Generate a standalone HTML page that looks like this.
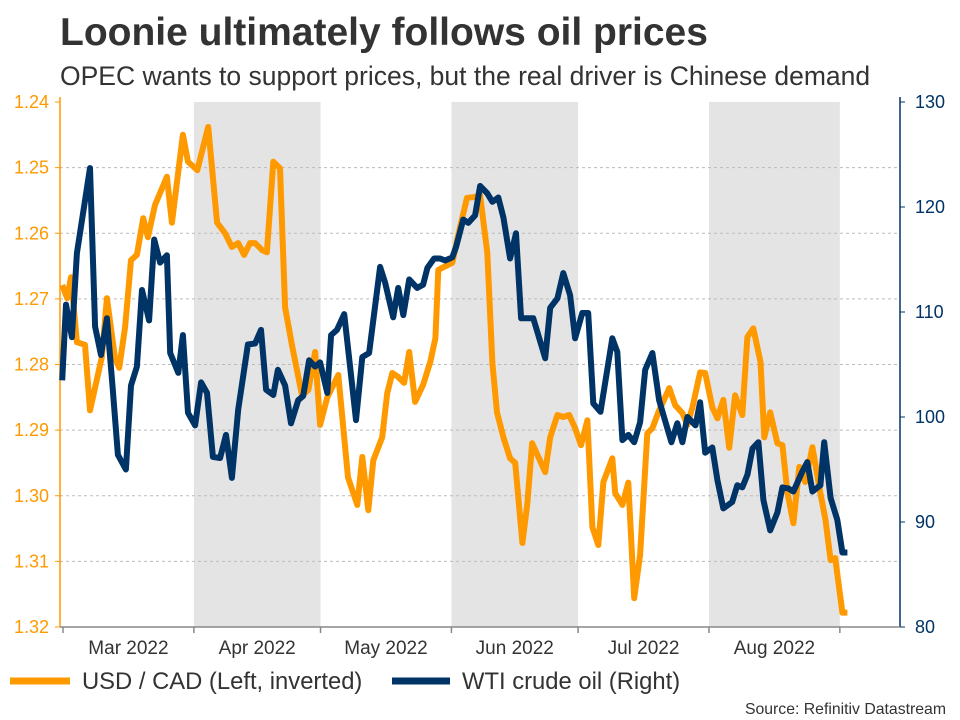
<!DOCTYPE html>
<html><head><meta charset="utf-8">
<style>
body{margin:0;background:#fff;font-family:"Liberation Sans",sans-serif;}
svg{display:block}
</style></head>
<body>
<svg id="chart" width="960" height="720" xmlns="http://www.w3.org/2000/svg" font-family="Liberation Sans, sans-serif">
<text x="60" y="45" font-size="39" font-weight="bold" fill="#333">Loonie ultimately follows oil prices</text>
<text x="60" y="85" font-size="26.5" fill="#333">OPEC wants to support prices, but the real driver is Chinese demand</text>
<g id="bands"></g><g id="grid"></g><g id="axes"></g><g id="series"></g>
<g>
<line x1="10" y1="681" x2="70" y2="681" stroke="#FF9900" stroke-width="7"/>
<text x="82" y="689" font-size="23.8" fill="#333">USD / CAD (Left, inverted)</text>
<line x1="392" y1="681" x2="450" y2="681" stroke="#003366" stroke-width="7"/>
<text x="462" y="689" font-size="23.8" fill="#333">WTI crude oil (Right)</text>
</g>
<text x="946" y="714" font-size="15.8" fill="#333" text-anchor="end">Source: Refinitiv Datastream</text>
</svg>
<script>
const leftTicks=[1.24,1.25,1.26,1.27,1.28,1.29,1.30,1.31,1.32];
const leftTickLabels=["1.24","1.25","1.26","1.27","1.28","1.29","1.30","1.31","1.32"];
const rightTicks=[80,90,100,110,120,130];
const monthLabels=["Mar 2022","Apr 2022","May 2022","Jun 2022","Jul 2022","Aug 2022"];
const monthStartDays=[0,31,61,92,122,153,184];
const shadedMonths=[1,3,5];
const cadDays=[-0.2,1,1.9,3.3,5.2,6.4,9.2,10.4,12.3,13.3,14.7,16.1,17.5,19,20.1,21.8,24.6,25.8,28.4,29.6,31.8,34.4,36.5,38.4,40,41.5,42.9,44.3,45.5,47.2,48.3,49.8,51.4,52.6,54.3,56.6,58.1,59.7,60.9,62.6,65.2,67.5,69.7,70.9,72.3,73.5,75.6,76.8,78,79.4,80.8,82,83.4,85.3,87,88.2,88.9,90,92.2,93.6,95.7,97.2,98.8,100.5,101.7,102.8,104.3,105.9,107.1,108.8,110,111.1,112.6,114.2,115.4,117.1,118.5,119.9,121.3,122.7,124.2,125.4,126.8,128,130.1,130.8,132.5,133.9,135.3,136.7,138.4,139.6,141,143.6,145,146.7,147.9,149.1,150.9,152.1,153.8,155,156.4,157.8,159.2,160.9,162.1,163.5,165.2,166.1,167.5,169.2,170.4,171.6,173,174.4,175.8,177.5,179.4,180.6,181.8,182.9,184.6,185.8];
const cadValues=[1.2679,1.2699,1.2667,1.2766,1.2770,1.2870,1.2789,1.2699,1.2789,1.2805,1.2743,1.2641,1.2633,1.2577,1.2606,1.2557,1.2514,1.2584,1.2450,1.2491,1.2504,1.2438,1.2584,1.2600,1.2621,1.2615,1.2633,1.2615,1.2615,1.2626,1.2629,1.2491,1.2501,1.2713,1.2773,1.2847,1.2839,1.2781,1.2892,1.2850,1.2816,1.2972,1.3014,1.2941,1.3022,1.2946,1.2911,1.2844,1.2813,1.2819,1.2828,1.2781,1.2857,1.2831,1.2796,1.2760,1.2656,1.2652,1.2645,1.2603,1.2546,1.2545,1.2542,1.2630,1.2798,1.2873,1.2911,1.2943,1.2950,1.3072,1.3011,1.2920,1.2941,1.2964,1.2911,1.2877,1.2880,1.2877,1.2897,1.2923,1.2885,1.3048,1.3075,1.2979,1.2943,1.2996,1.3014,1.2980,1.3156,1.3090,1.2905,1.2897,1.2873,1.2836,1.2862,1.2874,1.2892,1.2865,1.2812,1.2813,1.2865,1.2882,1.2854,1.2927,1.2847,1.2877,1.2758,1.2745,1.2796,1.2911,1.2873,1.2920,1.2923,1.2996,1.3042,1.2956,1.2979,1.2926,1.2996,1.3037,1.3098,1.3095,1.3178,1.3178];
const wtiDays=[-0.2,0.7,2.1,3.3,6.4,7.6,9,10.4,11.8,13,14.9,16.1,17.5,18.7,20.4,21.6,23,24.6,25.4,27.3,28.4,29.6,31.3,32.7,34.1,35.5,37.2,38.6,40,41.5,43.8,45.5,46.9,48.1,49.8,50.9,52.6,54,55.7,56.9,58.3,59.7,60.9,62.6,63.5,64.9,66.6,68.5,69.4,70.9,72.5,75.1,76.3,78.2,79.4,80.6,82,83.9,85.3,86.3,87.9,89.3,90.5,92.2,93.1,94.8,96,97.6,98.8,100.5,101.7,103.1,104.3,105.9,107.3,108.5,111.4,114.2,115.4,117.1,118.5,120.1,121.3,123,124.4,125.6,127.3,130.1,131.3,132.5,133.9,135.3,136.7,137.9,139.6,141.2,144.1,145.5,146.7,147.9,149.8,150.9,152.1,153.8,155,156.4,158.5,159.7,160.9,162.1,163.3,164.7,165.9,167.5,169.2,170.4,171.8,173,175.1,176.3,177.5,179.4,180.3,181.8,183.4,184.6,185.8];
const wtiValues=[103.5,110.7,107.6,115.6,123.7,108.6,105.9,109.4,102.6,96.4,95.0,103.0,104.8,112.1,109.2,116.9,114.7,115.4,106.1,104.2,107.8,100.4,99.2,103.3,102.3,96.2,96.1,98.3,94.2,100.7,106.9,107.0,108.3,102.6,102.1,104.5,103.0,99.4,101.6,102.0,105.4,104.8,105.2,102.3,107.8,108.3,109.8,103.0,99.7,105.7,106.1,114.3,112.8,109.5,112.3,109.7,113.1,112.3,112.6,114.2,115.1,115.1,114.9,115.2,116.2,118.8,118.5,119.2,122.0,121.3,120.5,120.9,119.0,115.1,117.5,109.4,109.4,105.6,110.4,111.3,113.7,111.6,107.5,109.9,109.9,101.3,100.5,107.5,106.2,97.8,98.3,97.6,99.5,104.5,106.1,101.6,97.6,99.4,97.6,100.0,99.2,101.4,96.6,97.1,94.0,91.3,91.9,93.5,93.3,94.5,97.0,97.6,92.1,89.2,90.9,93.3,93.2,92.9,94.8,95.7,92.9,93.5,97.6,92.3,90.2,87.1,87.1];

const NS="http://www.w3.org/2000/svg";
const X0=63, PX_PER_DAY=4.222, PL=60, PR=900, PT=102, PB=627;
function xScale(d){return X0+d*PX_PER_DAY;}
function yLeft(v){return PT+(v-1.24)/(1.32-1.24)*(PB-PT);}
function yRight(v){return PT+(130-v)/(130-80)*(PB-PT);}
function mk(tag,attrs,parent){const e=document.createElementNS(NS,tag);for(const k in attrs)e.setAttribute(k,attrs[k]);parent.appendChild(e);return e;}
const bands=document.getElementById('bands'),grid=document.getElementById('grid'),axes=document.getElementById('axes'),series=document.getElementById('series');
shadedMonths.forEach(i=>{
  const x1=xScale(monthStartDays[i]),x2=xScale(monthStartDays[i+1]);
  const r=mk('rect',{x:x1,y:PT,width:x2-x1,height:PB-PT,fill:'#e4e4e4'},bands);
  
  
});
leftTicks.forEach((v,i)=>{
  const y=yLeft(v);
  if(i>0&&i<leftTicks.length-1){const g=mk('line',{x1:PL,x2:PR,y1:y,y2:y,stroke:'#bbb','stroke-dasharray':'3,3','stroke-width':1},grid);
  
  }
  mk('line',{x1:PL-5,x2:PL,y1:y,y2:y,stroke:'#FF9900'},axes);
  const t=mk('text',{x:PL-11,y:y+6,'font-size':18,fill:'#FF9900','text-anchor':'end'},axes);
  t.textContent=leftTickLabels[i];
  
  
});
rightTicks.forEach(v=>{
  const y=yRight(v);
  mk('line',{x1:PR,x2:PR+5,y1:y,y2:y,stroke:'#003366'},axes);
  const t=mk('text',{x:PR+15,y:y+6,'font-size':18,fill:'#003366'},axes);
  t.textContent=v;
  
  
});
const la=mk('line',{x1:PL,x2:PL,y1:PT-5,y2:PB,stroke:'#FF9900','stroke-width':1.5},axes);


const ra=mk('line',{x1:PR,x2:PR,y1:PT-5,y2:PB,stroke:'#003366','stroke-width':1.5},axes);


const xa=mk('line',{x1:PL,x2:PR,y1:PB,y2:PB,stroke:'#888','stroke-width':1.5},axes);


monthStartDays.forEach(d=>{mk('line',{x1:xScale(d),x2:xScale(d),y1:PB,y2:PB+6,stroke:'#888','stroke-width':1.5},axes);});
monthLabels.forEach((m,i)=>{
  const cx=(xScale(monthStartDays[i])+xScale(monthStartDays[i+1]))/2;
  const t=mk('text',{x:cx,y:654,'font-size':19,fill:'#333','text-anchor':'middle'},axes);
  t.textContent=m;
  
  
});
function pathD(days,vals,ys){return days.map((d,i)=>(i?'L':'M')+xScale(d).toFixed(1)+','+ys(vals[i]).toFixed(1)).join('');}
const p1=mk('path',{d:pathD(cadDays,cadValues,yLeft),fill:'none',stroke:'#FF9900','stroke-width':6,'stroke-linejoin':'round'},series);


const p2=mk('path',{d:pathD(wtiDays,wtiValues,yRight),fill:'none',stroke:'#003366','stroke-width':6,'stroke-linejoin':'round'},series);


</script>
</body></html>
